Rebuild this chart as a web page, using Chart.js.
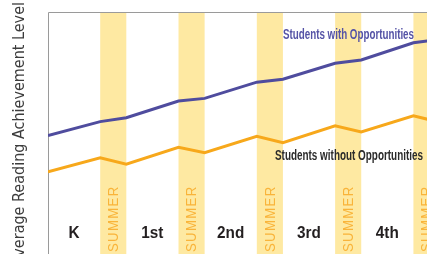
<!DOCTYPE html>
<html>
<head>
<meta charset="utf-8">
<style>
html,body{margin:0;padding:0;background:#fff;}
#wrap{position:relative;width:427px;height:254px;}
</style>
<script src="https://cdn.jsdelivr.net/npm/chart.js@4.4.1/dist/chart.umd.min.js"></script>
</head>
<body>
<div id="wrap"><canvas id="c" width="427" height="254"></canvas></div>
<script>
// time axis: each school year = 2 units, each summer = 1 unit
const timePoints = [0, 2, 3, 5, 6, 8, 9, 11, 12, 14, 15];
const withOpportunities = [48.9, 54.7, 56.3, 63.2, 64.3, 71.0, 72.2, 78.8, 80.2, 87.3, 88.6];
const withoutOpportunities = [34.0, 39.8, 37.1, 44.1, 41.9, 48.6, 46.0, 53.0, 50.4, 57.1, 54.5];
const summerStarts = [2, 5, 8, 11, 14];
const summerLength = 1;
const gradeLabels = ['K', '1st', '2nd', '3rd', '4th'];
const gradeCenters = [1, 4, 7, 10, 13];
const yAxisTitle = 'Average Reading Achievement Level';
const summerLabel = 'SUMMER';
const seriesNames = ['Students with Opportunities', 'Students without Opportunities'];

const NARROW = '"DejaVu Sans Condensed", "Liberation Sans", sans-serif';
const BLUE = '#4f4c9e';
const ORANGE = '#f7a81b';
const BAND = '#fee9a2';

// draw text compressed horizontally (condensed look) by a factor
function condensed(ctx, text, x, y, sx) {
  ctx.save();
  ctx.translate(x, y);
  ctx.scale(sx, 1);
  ctx.fillText(text, 0, 0);
  ctx.restore();
}

const decor = {
  id: 'decor',
  beforeDatasetsDraw(chart) {
    const {ctx, chartArea: a, scales: {x}} = chart;
    ctx.save();
    ctx.beginPath();
    ctx.rect(a.left, a.top, a.right - a.left, a.bottom - a.top);
    ctx.clip();
    ctx.fillStyle = BAND;
    summerStarts.forEach(s => {
      const x0 = x.getPixelForValue(s), x1 = x.getPixelForValue(s + summerLength);
      ctx.fillRect(x0, a.top, x1 - x0, a.bottom - a.top);
    });
    // SUMMER labels
    ctx.fillStyle = '#f9b43a';
    ctx.font = '15px "Liberation Sans", sans-serif';
    ctx.textBaseline = 'middle';
    ctx.textAlign = 'left';
    summerStarts.forEach(s => {
      const cx = x.getPixelForValue(s + summerLength / 2);
      ctx.save();
      ctx.translate(cx + 0.5, a.bottom - 2);
      ctx.rotate(-Math.PI / 2);
      ctx.letterSpacing = '1.5px';
      ctx.scale(0.88, 1);
      ctx.fillText(summerLabel, 0, 0);
      ctx.restore();
    });
    // grade labels
    ctx.fillStyle = '#231f20';
    ctx.font = 'bold 17px "Liberation Sans", sans-serif';
    ctx.textAlign = 'center';
    gradeLabels.forEach((g, i) => {
      condensed(ctx, g, x.getPixelForValue(gradeCenters[i]), 233, 0.9);
    });
    ctx.restore();
    // axes lines
    ctx.save();
    ctx.strokeStyle = '#9a9a9a';
    ctx.lineWidth = 1;
    ctx.beginPath();
    ctx.moveTo(a.left + 0.5, a.bottom);
    ctx.lineTo(a.left + 0.5, a.top + 0.5);
    ctx.lineTo(a.right, a.top + 0.5);
    ctx.stroke();
    ctx.restore();
  },
  afterDatasetsDraw(chart) {
    const {ctx} = chart;
    ctx.save();
    ctx.font = 'bold 14px "Liberation Sans", sans-serif';
    ctx.textBaseline = 'middle';
    ctx.textAlign = 'left';
    ctx.fillStyle = '#5553a6';
    let w = ctx.measureText(seriesNames[0]).width;
    condensed(ctx, seriesNames[0], 283, 35, 131 / w);
    ctx.fillStyle = '#2b2b2b';
    w = ctx.measureText(seriesNames[1]).width;
    condensed(ctx, seriesNames[1], 275, 156, 148 / w);
    // y axis title
    ctx.fillStyle = '#3c3c3c';
    ctx.font = '16px ' + NARROW;
    ctx.textAlign = 'right';
    ctx.translate(20, 2);
    ctx.rotate(-Math.PI / 2);
    ctx.fillText(yAxisTitle, 0, 0);
    ctx.restore();
  }
};

new Chart(document.getElementById('c'), {
  type: 'line',
  data: {
    datasets: [
      {data: timePoints.map((t, i) => ({x: t, y: withOpportunities[i]})), borderColor: BLUE, borderWidth: 3, pointRadius: 0, tension: 0},
      {data: timePoints.map((t, i) => ({x: t, y: withoutOpportunities[i]})), borderColor: ORANGE, borderWidth: 3, pointRadius: 0, tension: 0}
    ]
  },
  options: {
    responsive: false,
    animation: false,
    layout: {padding: {left: 48, top: 12, right: 0, bottom: 0}},
    plugins: {legend: {display: false}, tooltip: {enabled: false}},
    scales: {
      x: {type: 'linear', min: 0, max: 14.52, display: false},
      y: {min: 0, max: 100, display: false}
    }
  },
  plugins: [decor]
});
</script>
</body>
</html>
